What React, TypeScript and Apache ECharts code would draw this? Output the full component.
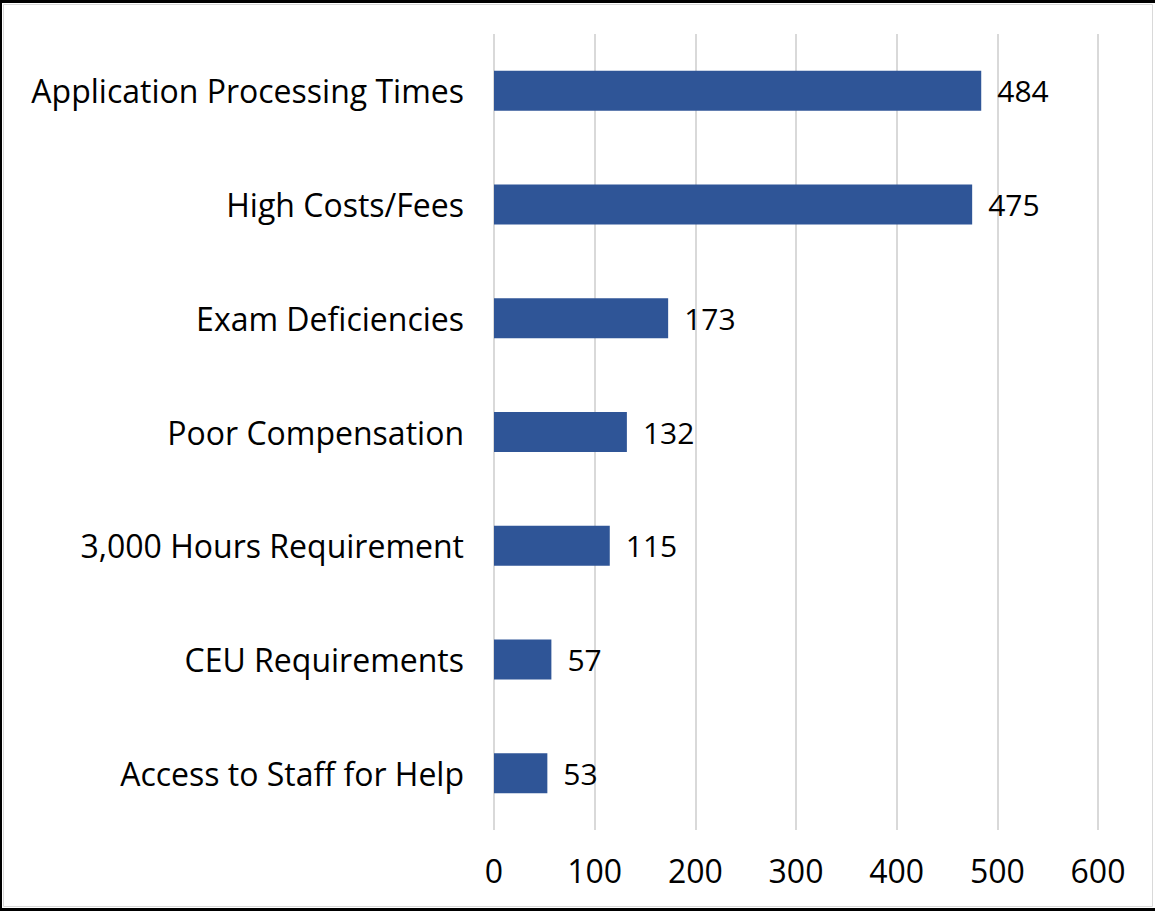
import React, { useEffect, useRef } from "react";
import * as echarts from "echarts";

const categories = [
  "Access to Staff for Help",
  "CEU Requirements",
  "3,000 Hours Requirement",
  "Poor Compensation",
  "Exam Deficiencies",
  "High Costs/Fees",
  "Application Processing Times",
];
const values = [53, 57, 115, 132, 173, 475, 484];
const FONT = "'Open Sans', 'Noto Sans', sans-serif";
const TICK_FONT = "'Liberation Sans Narrow', 'Open Sans', sans-serif";

export default function App() {
  const ref = useRef<HTMLDivElement>(null);
  useEffect(() => {
    const chart = echarts.init(ref.current!, null, { renderer: "svg" });
    chart.setOption({
      animation: false,
      backgroundColor: "#ffffff",
      grid: { left: 494, right: 57, top: 34, bottom: 81, containLabel: false },
      xAxis: {
        type: "value",
        min: 0,
        max: 600,
        interval: 100,
        axisLine: { show: false },
        axisTick: { show: false },
        splitLine: { show: true, lineStyle: { color: "#D9D9D9", width: 2 } },
        axisLabel: { color: "#000", fontSize: 32, fontFamily: TICK_FONT, margin: 24 },
      },
      yAxis: {
        type: "category",
        data: categories,
        axisLine: { show: false },
        axisTick: { show: false },
        axisLabel: { color: "#000", fontSize: 32, fontFamily: FONT, margin: 30 },
      },
      series: [
        {
          type: "bar",
          data: values,
          barWidth: 40,
          itemStyle: { color: "#2F5597" },
          label: {
            show: true,
            position: "right",
            distance: 16,
            color: "#000",
            fontSize: 30,
            fontFamily: FONT,
          },
        },
      ],
      graphic: [
        { type: "rect", shape: { x: 3.5, y: 4.5, width: 1149, height: 902 }, style: { fill: "none", stroke: "#D9D9D9", lineWidth: 1 } },
        { type: "rect", shape: { x: 0, y: 0, width: 1155, height: 3 }, style: { fill: "#000" } },
        { type: "rect", shape: { x: 0, y: 0, width: 2, height: 911 }, style: { fill: "#000" } },
        { type: "rect", shape: { x: 0, y: 908, width: 1155, height: 3 }, style: { fill: "#000" } },
      ],
    });
    return () => chart.dispose();
  }, []);
  return (
    <div
      ref={ref}
      style={{ position: "fixed", left: 0, top: 0, width: 1155, height: 911 }}
    />
  );
}
